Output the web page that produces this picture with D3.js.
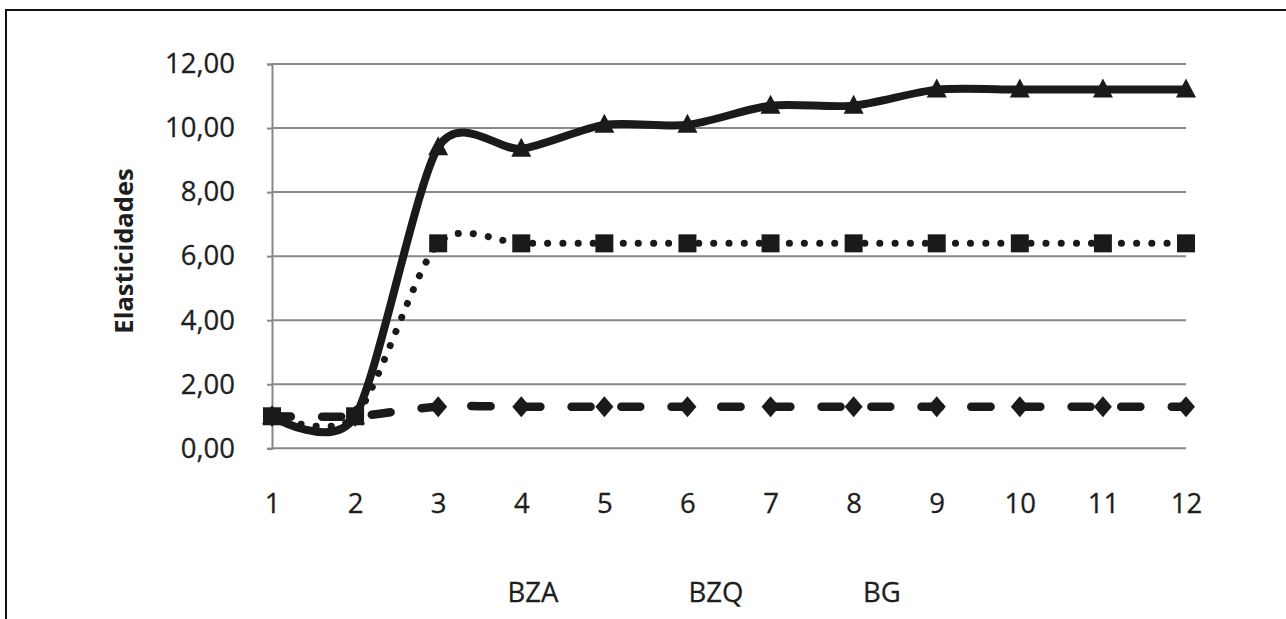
<!DOCTYPE html>
<html>
<head>
<meta charset="utf-8">
<script src="https://cdn.jsdelivr.net/npm/d3@7/dist/d3.min.js"></script>
<style>
  html, body { margin: 0; padding: 0; background: #fff; }
  svg { display: block; }
  text { font-family: "Open Sans", "Noto Sans", sans-serif; fill: #1e1e1e; }
</style>
</head>
<body>
<svg id="chart" width="1286" height="619"></svg>
<script>
// Periods on the horizontal axis
const categories = ["1", "2", "3", "4", "5", "6", "7", "8", "9", "10", "11", "12"];

// Elasticities per series
const bzaValues = [1.00, 1.00, 1.30, 1.30, 1.30, 1.30, 1.30, 1.30, 1.30, 1.30, 1.30, 1.30];
const bzqValues = [1.00, 1.00, 6.40, 6.40, 6.40, 6.40, 6.40, 6.40, 6.40, 6.40, 6.40, 6.40];
const bgValues  = [1.00, 1.00, 9.40, 9.35, 10.10, 10.10, 10.70, 10.70, 11.20, 11.20, 11.20, 11.20];

const seriesNames = ["BZA", "BZQ", "BG"];
const yTicks = [0, 2, 4, 6, 8, 10, 12];
const yTitle = "Elasticidades";

const svg = d3.select("#chart");

// Outer frame (left and top edges)
svg.append("path")
  .attr("d", "M6,640 L6,10 L1290,10")
  .attr("fill", "none")
  .attr("stroke", "#111")
  .attr("stroke-width", 2);

const x = d3.scalePoint().domain(categories).range([272, 1186]);
const y = d3.scaleLinear().domain([0, 12]).range([448.3, 64]);

const locale = d3.formatLocale({ decimal: ",", thousands: ".", grouping: [3], currency: ["", ""] });
const fmt = locale.format(".2f");

const gridColor = "#878787";
const labelSize = 27.5;

// Horizontal gridlines
svg.append("g")
  .selectAll("line")
  .data(yTicks)
  .join("line")
  .attr("x1", 272).attr("x2", 1186)
  .attr("y1", d => y(d)).attr("y2", d => y(d))
  .attr("stroke", gridColor)
  .attr("stroke-width", 2);

// Y axis
const yAxis = svg.append("g")
  .attr("transform", "translate(272,0)")
  .call(d3.axisLeft(y).tickValues(yTicks).tickSize(5).tickPadding(32).tickFormat(fmt));
yAxis.select(".domain").attr("stroke", gridColor).attr("stroke-width", 2);
yAxis.selectAll(".tick line").attr("stroke", gridColor).attr("stroke-width", 2);
yAxis.selectAll(".tick text")
  .attr("font-size", labelSize)
  .attr("font-family", "\"Open Sans\", sans-serif")
  .attr("fill", "#1e1e1e")
  .attr("stroke", "#1e1e1e")
  .attr("stroke-width", 0.3);

// X axis
const xAxis = svg.append("g")
  .attr("transform", `translate(0,${y(0)})`)
  .call(d3.axisBottom(x).tickSize(0).tickPadding(45));
xAxis.select(".domain").remove();
xAxis.selectAll(".tick text")
  .attr("font-size", labelSize)
  .attr("font-family", "\"Open Sans\", sans-serif")
  .attr("fill", "#1e1e1e")
  .attr("stroke", "#1e1e1e")
  .attr("stroke-width", 0.3);

// Y axis title
svg.append("text")
  .attr("transform", "translate(133,251) rotate(-90)")
  .attr("text-anchor", "middle")
  .attr("font-size", 25.5)
  .attr("font-weight", "bold")
  .text(yTitle);

const curve = d3.curveCardinal.tension(0.2);
const lineGen = d3.line()
  .x((d, i) => x(categories[i]))
  .y(d => y(d))
  .curve(curve);

const ink = "#1a1a1a";

// Series lines
svg.append("path")
  .datum(bgValues)
  .attr("d", lineGen)
  .attr("fill", "none")
  .attr("stroke", ink)
  .attr("stroke-width", 8)
  .attr("stroke-linejoin", "round");

svg.append("path")
  .datum(bzqValues)
  .attr("d", lineGen)
  .attr("fill", "none")
  .attr("stroke", ink)
  .attr("stroke-width", 7)
  .attr("stroke-linecap", "round")
  .attr("stroke-dasharray", "0.1 15");

svg.append("path")
  .datum(bzaValues)
  .attr("d", lineGen)
  .attr("fill", "none")
  .attr("stroke", ink)
  .attr("stroke-width", 8.5)
  .attr("stroke-linecap", "round")
  .attr("stroke-dasharray", "19 31");

// Markers
const tri = "M0,-11 L10,8 L-10,8 Z";
const sq = "M-9,-9 H9 V9 H-9 Z";
const dia = "M0,-10.5 L9,0 L0,10.5 L-9,0 Z";

function markers(values, shape) {
  svg.append("g")
    .selectAll("path")
    .data(values)
    .join("path")
    .attr("transform", (d, i) => `translate(${x(categories[i])},${y(d)})`)
    .attr("d", shape)
    .attr("fill", ink);
}
markers(bgValues, tri);
markers(bzaValues, dia);
markers(bzqValues, sq);

// Legend labels
const legendX = [533, 716, 882];
svg.append("g")
  .selectAll("text")
  .data(seriesNames)
  .join("text")
  .attr("x", (d, i) => legendX[i])
  .attr("y", 602)
  .attr("text-anchor", "middle")
  .attr("font-size", labelSize)
  .attr("stroke", "#1e1e1e")
  .attr("stroke-width", 0.3)
  .text(d => d);
</script>
</body>
</html>
